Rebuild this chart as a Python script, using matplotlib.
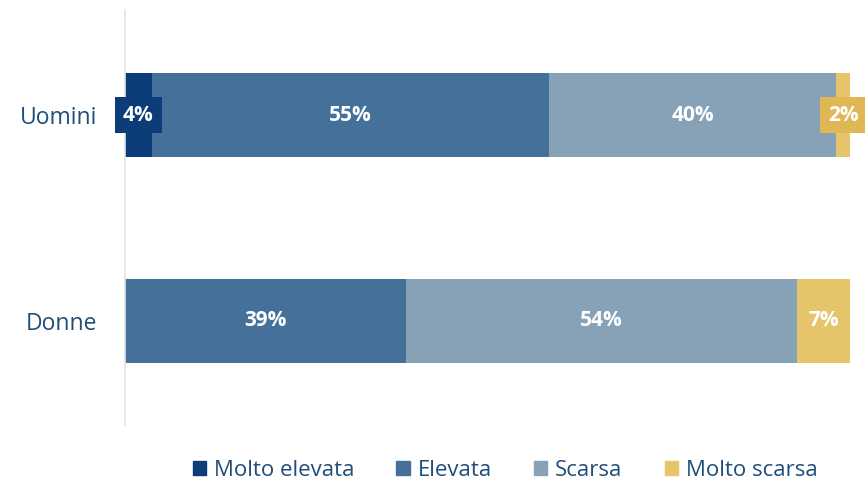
import matplotlib.pyplot as plt
from matplotlib.patches import Patch

categories = ["Donne", "Uomini"]
series_names = ["Molto elevata", "Elevata", "Scarsa", "Molto scarsa"]
# valori (percentuali)
molto_elevata = [0.0, 3.7]
elevata = [38.8, 54.8]
scarsa = [53.9, 39.6]
molto_scarsa = [7.3, 1.9]
labels_donne = ["", "39%", "54%", "7%"]
labels_uomini = ["4%", "55%", "40%", "2%"]

colors = ["#0d3d78", "#44709a", "#87a2b6", "#e6c46a"]
box_colors = ["#0d3d78", None, None, "#dfb855"]
text_blue = "#1f4e79"

plt.rcParams['font.family'] = ['Open Sans', 'DejaVu Sans']

fig = plt.figure(figsize=(8.65, 4.83), dpi=100)
ax = fig.add_axes([125 / 865, 1 - 425 / 483, (850 - 125) / 865, 415 / 483])

values = [molto_elevata, elevata, scarsa, molto_scarsa]
labels = [labels_donne, labels_uomini]
y_pos = list(range(len(categories)))
left = [0.0, 0.0]
for s, (name, vals) in enumerate(zip(series_names, values)):
    ax.barh(y_pos, vals, left=left, height=0.41, color=colors[s], label=name)
    for i, v in enumerate(vals):
        lab = labels[i][s]
        if lab:
            x = left[i] + v / 2
            if box_colors[s] is not None and v < 5:
                ax.text(x, i, lab, ha="center", va="center", color="white",
                        fontsize=15, fontweight="bold",
                        bbox=dict(boxstyle="square,pad=0.38", fc=box_colors[s], ec="none"))
            else:
                ax.text(x, i, lab, ha="center", va="center", color="white",
                        fontsize=15, fontweight="bold")
    left = [l + v for l, v in zip(left, vals)]

ax.set_xlim(0, 100)
ax.set_ylim(-0.505, 1.51)
ax.set_yticks(y_pos)
ax.set_yticklabels(categories, fontsize=16.5, color=text_blue)
ax.tick_params(axis="y", length=0, pad=20)
ax.set_xticks([])
for sp in ["top", "right", "bottom"]:
    ax.spines[sp].set_visible(False)
ax.spines["left"].set_color("#e3e3e3")
ax.spines["left"].set_linewidth(1.2)

handles = [Patch(color=c, label=n) for c, n in zip(colors, series_names)]
leg = fig.legend(handles=handles, loc="center", bbox_to_anchor=(505 / 865, 1 - 470 / 483),
                 ncol=4, frameon=False, fontsize=16, handlelength=0.6, handleheight=0.6,
                 handletextpad=0.35, columnspacing=1.9)
for t in leg.get_texts():
    t.set_color(text_blue)

fig.savefig("out.png", dpi=100)
